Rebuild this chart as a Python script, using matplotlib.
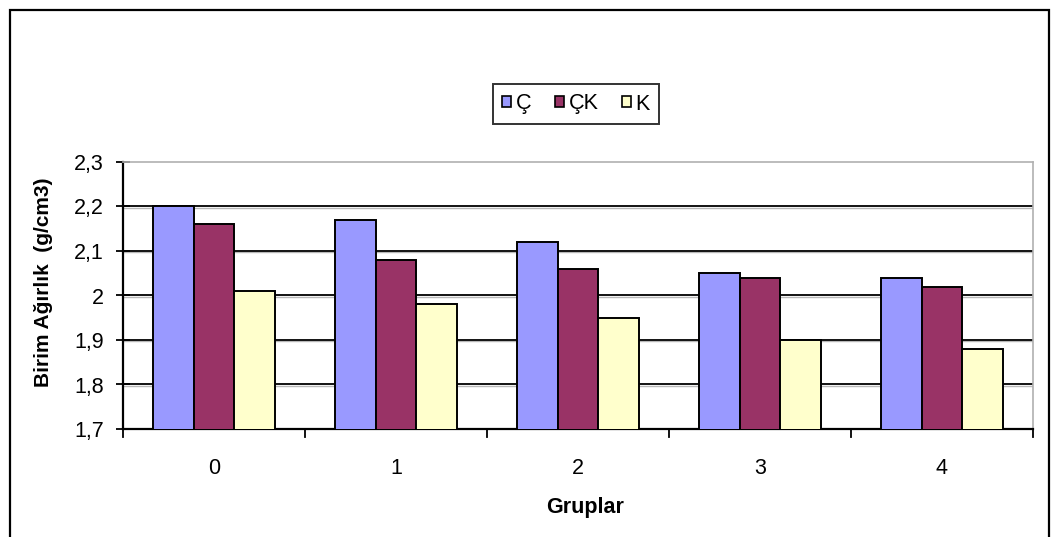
import matplotlib
matplotlib.use("Agg")
import matplotlib.pyplot as plt
from matplotlib.patches import Rectangle, Patch
import matplotlib.transforms as mtransforms
import numpy as np

plt.rcParams['font.family'] = ['Liberation Sans', 'DejaVu Sans']

groups = ["0", "1", "2", "3", "4"]
series_names = ["Ç", "ÇK", "K"]
vals_c = [2.20, 2.17, 2.12, 2.05, 2.04]
vals_ck = [2.16, 2.08, 2.06, 2.04, 2.02]
vals_k = [2.01, 1.98, 1.95, 1.90, 1.88]
colors = ["#9999FF", "#993366", "#FFFFCC"]
yticks = [1.7, 1.8, 1.9, 2.0, 2.1, 2.2, 2.3]
ytick_labels = ["1,7", "1,8", "1,9", "2", "2,1", "2,2", "2,3"]

W, H = 1061, 537
FS = 15.5
fig = plt.figure(figsize=(W / 100, H / 100), dpi=100)
ax = fig.add_axes([123 / W, 1 - 429 / H, (1033 - 123) / W, (429 - 162) / H])

# outer chart frame
frame = Rectangle((10 / W, -0.05), (1049 - 10) / W, 1.05 - 10 / H,
                  transform=fig.transFigure, fill=False, edgecolor="black",
                  linewidth=1.6, clip_on=False)
fig.patches.append(frame)

x = np.arange(len(groups))
bw = 0.225
for i, (vals, col) in enumerate(zip([vals_c, vals_ck, vals_k], colors)):
    ax.bar(x + (i - 1) * bw, vals, width=bw, color=col, edgecolor="black",
           linewidth=1.4, zorder=3)

ax.set_xlim(-0.5, len(groups) - 0.5)
ax.set_ylim(1.7, 2.3)

# horizontal gridlines with a faint shadow just below
ytrans = ax.get_yaxis_transform()
shadow = ytrans + mtransforms.ScaledTranslation(0, -1.5 / 100, fig.dpi_scale_trans)
for yv in yticks[1:-1]:
    ax.plot([0, 1], [yv, yv], transform=shadow, color="#B8B8B8",
            linewidth=1.0, zorder=1)
    ax.plot([0, 1], [yv, yv], transform=ytrans, color="black",
            linewidth=1.3, zorder=2)

ax.set_yticks(yticks)
ax.set_yticklabels(ytick_labels, fontsize=FS)
ax.set_xticks(x)
ax.set_xticklabels(groups, fontsize=FS)
ax.tick_params(axis="x", length=0, pad=21)
ax.tick_params(axis="y", direction="inout", length=9.5, width=1.3, pad=9)

# category boundary ticks on the x axis
for b in np.arange(-0.5, len(groups), 1.0):
    ax.plot([b, b], [0, -0.03], transform=ax.get_xaxis_transform(),
            color="black", linewidth=1.3, clip_on=False, zorder=4)

for side in ["top", "right"]:
    ax.spines[side].set_color("#B0B0B0")
    ax.spines[side].set_linewidth(1.2)
for side in ["left", "bottom"]:
    ax.spines[side].set_color("black")
    ax.spines[side].set_linewidth(1.6)

ax.set_ylabel("Birim Ağırlık  (g/cm3)", fontsize=15, fontweight="bold")
ax.yaxis.set_label_coords(53 / W, 1 - 282 / H, transform=fig.transFigure)
ax.set_xlabel("Gruplar", fontsize=FS, fontweight="bold")
ax.xaxis.set_label_coords(585 / W, 1 - 497 / H, transform=fig.transFigure)

handles = [Patch(facecolor=c, edgecolor="black", linewidth=1.2) for c in colors]
leg = fig.legend(handles, series_names, loc="center",
                 bbox_to_anchor=(576 / W, 1 - 104 / H), ncol=3, fontsize=FS,
                 frameon=True, fancybox=False, edgecolor="black",
                 handlelength=0.42, handleheight=0.42, handletextpad=0.2,
                 columnspacing=1.1, borderpad=0.45, borderaxespad=0)
leg.get_frame().set_linewidth(1.4)

fig.savefig("out.png", dpi=100, facecolor="white")
